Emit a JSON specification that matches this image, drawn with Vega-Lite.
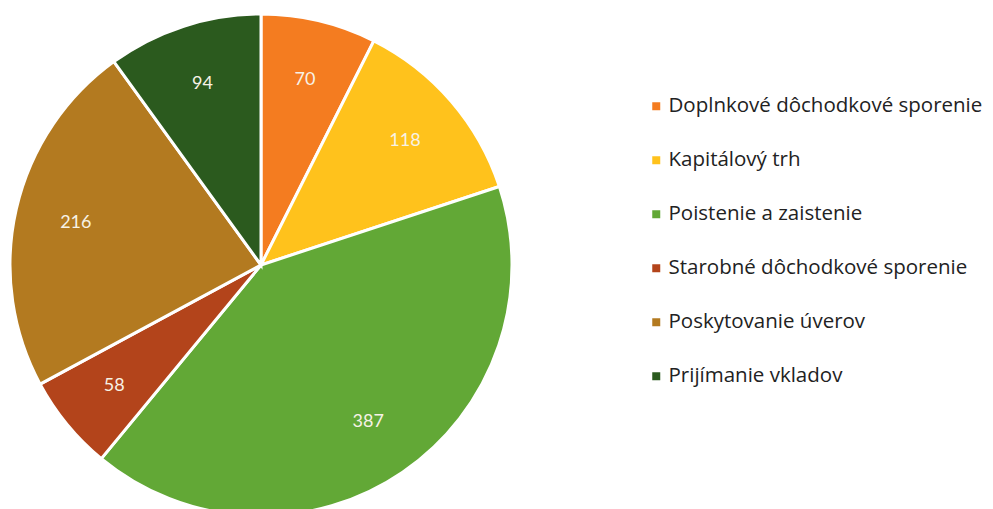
{
  "$schema": "https://vega.github.io/schema/vega-lite/v6.json",
  "width": 522,
  "height": 530,
  "padding": {"left": 0, "top": 0, "right": 471, "bottom": 0},
  "autosize": {"type": "none"},
  "background": "white",
  "view": {"stroke": null},
  "data": {
    "values": [
      {"idx": 1, "kategoria": "Doplnkové dôchodkové  sporenie", "pocet": 70},
      {"idx": 2, "kategoria": "Kapitálový trh", "pocet": 118},
      {"idx": 3, "kategoria": "Poistenie a zaistenie", "pocet": 387},
      {"idx": 4, "kategoria": "Starobné dôchodkové sporenie", "pocet": 58},
      {"idx": 5, "kategoria": "Poskytovanie úverov", "pocet": 216},
      {"idx": 6, "kategoria": "Prijímanie vkladov", "pocet": 94}
    ]
  },
  "encoding": {
    "theta": {"field": "pocet", "type": "quantitative", "stack": true},
    "order": {"field": "idx", "type": "quantitative"}
  },
  "layer": [
    {
      "mark": {"type": "arc", "outerRadius": 251, "stroke": "white", "strokeWidth": 3},
      "encoding": {
        "color": {
          "field": "kategoria",
          "type": "nominal",
          "scale": {
            "domain": ["Doplnkové dôchodkové  sporenie", "Kapitálový trh", "Poistenie a zaistenie", "Starobné dôchodkové sporenie", "Poskytovanie úverov", "Prijímanie vkladov"],
            "range": ["#F47C20", "#FFC21C", "#62A836", "#B3441B", "#B37A20", "#2B5A1E"]
          },
          "legend": {
            "title": null,
            "orient": "none",
            "legendX": 646,
            "legendY": 96,
            "symbolType": "square",
            "symbolSize": 64,
            "symbolStrokeWidth": 0,
            "labelFont": "Open Sans",
            "labelFontSize": 20.5,
            "labelColor": "#222222",
            "labelOffset": 2,
            "labelLimit": 400,
            "rowPadding": 33
          }
        }
      }
    },
    {
      "mark": {"type": "text", "radius": 190, "font": "Lato", "fontSize": 18, "baseline": "middle", "color": "#F7F2E6"},
      "encoding": {
        "text": {"field": "pocet", "type": "quantitative"}
      }
    }
  ]
}
